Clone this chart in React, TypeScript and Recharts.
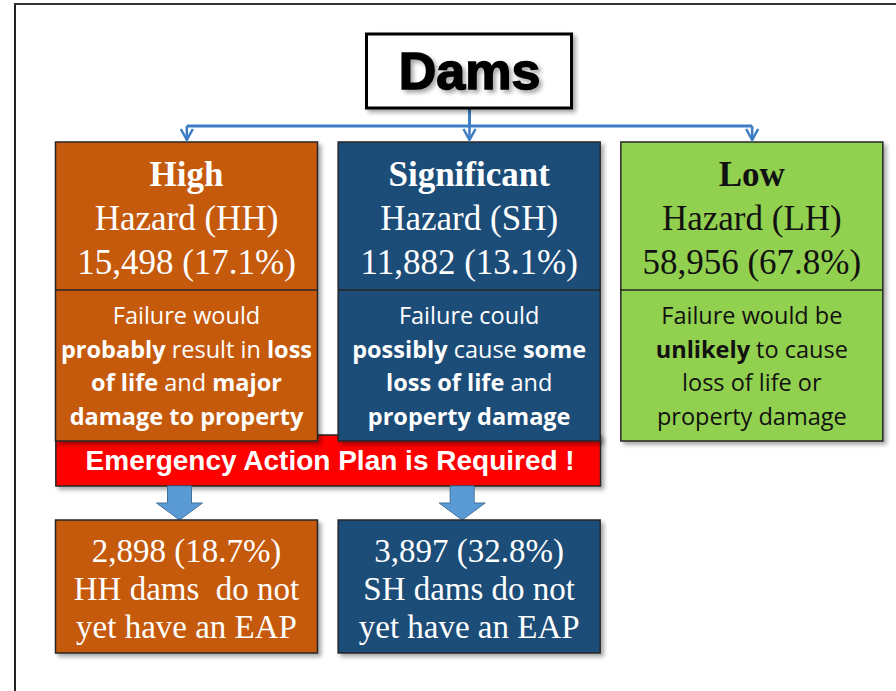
import { ComposedChart, Bar, XAxis, YAxis, ReferenceLine, ReferenceDot, ReferenceArea } from 'recharts'

// hazard classes, one column each
const LEVELS = ['High', 'Significant', 'Low']
const CODES = ['HH', 'SH', 'LH']
const DAM_COUNTS = [15498, 11882, 58956]
const DAM_SHARES = [17.1, 13.1, 67.8]
// dams without an Emergency Action Plan (only required for HH / SH)
const NO_EAP_COUNTS = [2898, 3897, null]
const NO_EAP_SHARES = [18.7, 32.8, null]
// description lines, [text, bold]
const DESCRIPTIONS: Array<Array<Array<[string, boolean]>>> = [
  [
    [['Failure would', false]],
    [['probably', true], [' result in ', false], ['loss', true]],
    [['of  life', true], [' and ', false], ['major', true]],
    [['damage to property', true]],
  ],
  [
    [['Failure could', false]],
    [['possibly', true], [' cause ', false], ['some', true]],
    [['loss of life', true], [' and', false]],
    [['property damage', true]],
  ],
  [
    [['Failure would be', false]],
    [['unlikely', true], [' to cause', false]],
    [['loss of life or', false]],
    [['property damage', false]],
  ],
]
const ROOT_LABEL = 'Dams'
const EAP_BANNER = 'Emergency Action Plan is Required !'

const FILL: Record<string, string> = { High: '#c55a11', Significant: '#1f4e79', Low: '#92d050' }
const INK: Record<string, string> = { High: '#ffffff', Significant: '#ffffff', Low: '#111111' }
const SERIF = "'Liberation Serif', 'Times New Roman', serif"
const BODY = "'Open Sans', Lato, sans-serif"
const SANS = "'Liberation Sans', Arial, sans-serif"
const LINK = '#3c7dc4'
const BORDER = '#262626'
const BAR_SIZE = 262

// layout (pixel rows, layout y axis runs 0..691 top-down)
const BOX_TOP = 142
const BOX_MID = 290
const BOX_BOTTOM = 441
const BANNER_TOP = 435
const BANNER_BOTTOM = 486
const EAP_TOP = 520
const EAP_BOTTOM = 653
const LINK_Y = 126

const fmt = (n: number) => n.toLocaleString('en-US')

const rows = LEVELS.map((level, i) => ({
  level,
  code: CODES[i],
  count: DAM_COUNTS[i],
  share: DAM_SHARES[i],
  noEap: NO_EAP_COUNTS[i],
  noEapShare: NO_EAP_SHARES[i],
  desc: DESCRIPTIONS[i],
}))

function HazardColumn(props: any) {
  const { x, width, payload, index } = props
  const cx = x + width / 2
  const ink = INK[payload.level]
  return (
    <g>
      {index === 0 && (
        <defs>
          <filter id="boxShadow" x="-10%" y="-10%" width="130%" height="130%">
            <feDropShadow dx="3" dy="3" stdDeviation="2" floodColor="#000" floodOpacity="0.35" />
          </filter>
        </defs>
      )}
      <rect x={x} y={BOX_TOP} width={width} height={BOX_BOTTOM - BOX_TOP} fill={FILL[payload.level]} stroke={BORDER} strokeWidth={1.5} filter="url(#boxShadow)" />
      <line x1={x} x2={x + width} y1={BOX_MID} y2={BOX_MID} stroke={BORDER} strokeWidth={1.5} />
      <g fontFamily={SERIF} fontSize={35} fill={ink} textAnchor="middle">
        <text x={cx} y={186} fontWeight="bold">{payload.level}</text>
        <text x={cx} y={230}>{`Hazard (${payload.code})`}</text>
        <text x={cx} y={274}>{`${fmt(payload.count)} (${payload.share.toFixed(1)}%)`}</text>
      </g>
      <g fontFamily={BODY} fontSize={23.5} fill={ink} textAnchor="middle">
        {payload.desc.map((line: Array<[string, boolean]>, li: number) => (
          <text key={li} x={cx} y={324 + li * 33.7}>
            {line.map(([t, b], k) => (
              <tspan key={k} fontWeight={b ? 'bold' : 'normal'}>{t}</tspan>
            ))}
          </text>
        ))}
      </g>
    </g>
  )
}

function NoEapColumn(props: any) {
  const { x, width, payload } = props
  if (payload.noEap == null) return <g />
  const cx = x + width / 2 - 7
  const ink = INK[payload.level]
  const arrow = `M${cx - 12},${BANNER_BOTTOM} L${cx + 12},${BANNER_BOTTOM} L${cx + 12},503 L${cx + 23},503 L${cx},${EAP_TOP} L${cx - 23},503 L${cx - 12},503 Z`
  return (
    <g>
      <path d={arrow} fill="#5b9bd5" stroke="#41719c" strokeWidth={1} />
      <rect x={x} y={EAP_TOP} width={width} height={EAP_BOTTOM - EAP_TOP} fill={FILL[payload.level]} stroke={BORDER} strokeWidth={1.5} filter="url(#boxShadow)" />
      <g fontFamily={SERIF} fontSize={33} fill={ink} textAnchor="middle">
        <text x={x + width / 2} y={562}>{`${fmt(payload.noEap)} (${payload.noEapShare.toFixed(1)}%)`}</text>
        <text x={x + width / 2} y={600} xmlSpace="preserve">{`${payload.code} dams ${payload.level === 'High' ? ' ' : ''}do not`}</text>
        <text x={x + width / 2} y={638}>yet have an EAP</text>
      </g>
    </g>
  )
}

function RootBox(props: any) {
  const { cx, cy } = props
  return (
    <g>
      <rect x={cx - 103} y={cy - 37} width={205} height={74} fill="#fff" stroke="#000" strokeWidth={3} filter="url(#boxShadow)" />
      <text x={cx} y={cy + 18} textAnchor="middle" fontFamily={SANS} fontWeight="bold" fontSize={52} fill="#000" stroke="#000" strokeWidth={1.5} filter="url(#boxShadow)">
        {ROOT_LABEL}
      </text>
    </g>
  )
}

function Chevron(props: any) {
  const { cx, cy } = props
  return (
    <path d={`M${cx - 6},${cy - 11} L${cx},${cy} L${cx + 6},${cy - 11}`} fill="none" stroke={LINK} strokeWidth={2.5} />
  )
}

// reference area spans whole bands; pull in to the bar edges
function Banner(props: any) {
  const { x, y, width, height } = props
  const inset = (width / 2 - BAR_SIZE) / 2
  const bx = x + inset
  const bw = width - 2 * inset
  return (
    <g>
      <rect x={bx} y={y} width={bw} height={height} fill="#ff0000" stroke={BORDER} strokeWidth={1.5} filter="url(#boxShadow)" />
      <text x={bx + bw / 2 + 2} y={y + height / 2 + 9} textAnchor="middle" fontFamily={SANS} fontWeight="bold" fontSize={28} fill="#fff">
        {EAP_BANNER}
      </text>
    </g>
  )
}

export default function App() {
  return (
    <div style={{ position: 'absolute', left: 0, top: 0, width: 896, height: 691, background: '#fff' }}>
      <div style={{ position: 'absolute', left: 14, top: 3, right: 0, bottom: 0, borderTop: '2px solid #333', borderLeft: '2px solid #222' }} />
      <div style={{ position: 'absolute', left: 0, top: 0 }}>
        <ComposedChart width={896} height={691} data={rows} margin={{ top: 0, right: 2.5, bottom: 0, left: 45.5 }} barCategoryGap={0}>
          <XAxis dataKey="level" type="category" hide />
          <YAxis yAxisId="count" hide />
          <YAxis yAxisId="layout" type="number" domain={[0, 691]} reversed hide allowDataOverflow />
          <Bar yAxisId="count" dataKey="count" stackId="col" barSize={BAR_SIZE} shape={HazardColumn} isAnimationActive={false} />
          <Bar yAxisId="count" dataKey="noEap" stackId="col" barSize={BAR_SIZE} shape={NoEapColumn} isAnimationActive={false} />
          <ReferenceLine yAxisId="layout" segment={[{ x: 'Significant', y: 108 }, { x: 'Significant', y: LINK_Y }]} stroke={LINK} strokeWidth={3} />
          <ReferenceLine yAxisId="layout" segment={[{ x: 'High', y: LINK_Y }, { x: 'Low', y: LINK_Y }]} stroke={LINK} strokeWidth={3} />
          {LEVELS.map((l) => (
            <ReferenceLine key={`v-${l}`} yAxisId="layout" segment={[{ x: l, y: LINK_Y }, { x: l, y: BOX_TOP - 2 }]} stroke={LINK} strokeWidth={2.5} />
          ))}
          {LEVELS.map((l) => (
            <ReferenceDot key={`c-${l}`} yAxisId="layout" x={l} y={BOX_TOP - 2} r={6} shape={Chevron} />
          ))}
          <ReferenceDot yAxisId="layout" x="Significant" y={71} r={10} shape={RootBox} />
          <ReferenceArea yAxisId="layout" x1="High" x2="Significant" y1={BANNER_TOP} y2={BANNER_BOTTOM} shape={Banner} />
        </ComposedChart>
      </div>
    </div>
  )
}
